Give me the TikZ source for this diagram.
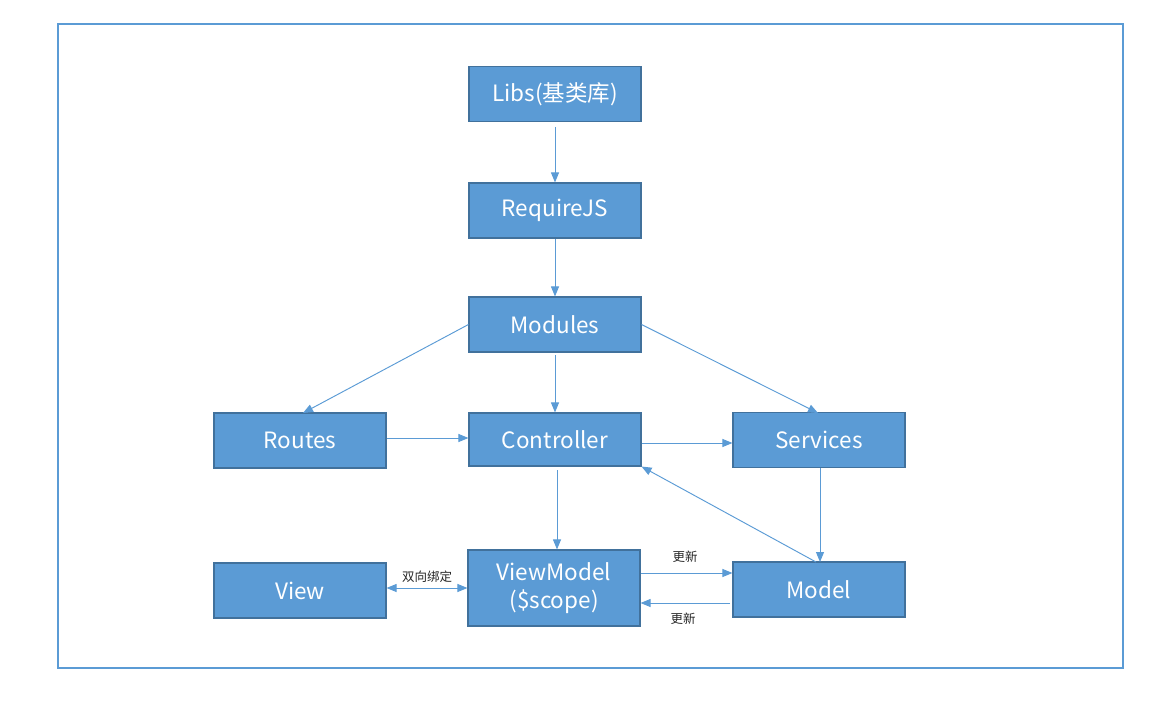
\documentclass[tikz,border=0pt]{standalone}
\usepackage{fontspec}
\setmainfont{Noto Sans CJK SC}
\usetikzlibrary{arrows.meta}
\definecolor{boxfill}{HTML}{5B9BD5}
\definecolor{boxline}{HTML}{41719C}
\definecolor{arr}{HTML}{5B9BD5}
\tikzset{
  blk/.style={draw=boxline, fill=boxfill, line width=1.1pt, inner sep=0pt, minimum width=172pt, minimum height=55pt, text=white, font=\fontsize{22.5}{28}\selectfont, align=center},
  conn/.style={draw=arr, line width=0.95pt, -{Triangle[length=10pt,width=8pt]}},
  biconn/.style={draw=arr, line width=0.95pt, {Triangle[length=10pt,width=8pt]}-{Triangle[length=10pt,width=8pt]}},
  lbl/.style={font=\fontsize{12.5}{14}\selectfont, text=black!85, inner sep=1pt}
}
\begin{document}
\begin{tikzpicture}[x=1pt,y=-1pt]
\useasboundingbox (0,0) rectangle (1175,703);
\draw[draw=arr, line width=1.1pt] (58,24) rectangle (1123,668);
\node[blk] (libs) at (555,94) {Libs(基类库)};
\node[blk] (req) at (555,210.5) {RequireJS};
\node[blk] (mod) at (555,324.5) {Modules};
\node[blk] (routes) at (300,440.5) {Routes};
\node[blk, minimum height=53pt] (ctrl) at (555,439.5) {Controller};
\node[blk] (serv) at (819,440) {Services};
\node[blk] (view) at (300,590.5) {View};
\node[blk, minimum height=76pt] (vm) at (554,588) {ViewModel\\(\$scope)};
\node[blk] (model) at (819,589.5) {Model};
\coordinate (a1) at (555,127);
\draw[conn] (a1) -- (req.north);
\draw[conn] (req.south) -- (mod.north);
\coordinate (a2) at (555,355);
\draw[conn] (a2) -- (ctrl.north);
\coordinate (rt) at (303,413);
\draw[conn] (mod.west) -- (rt);
\coordinate (st) at (818,413);
\draw[conn] (mod.east) -- (st);
\draw[conn] (routes.east |- 0,438) coordinate (r1) -- (ctrl.west |- r1);
\draw[conn] (ctrl.east |- 0,443) coordinate (c1) -- (serv.west |- c1);
\coordinate (s1) at (820,468);
\coordinate (m1) at (820,562);
\draw[conn] (s1) -- (m1);
\coordinate (m2) at (816,562);
\draw[conn] (m2) -- (ctrl.south east);
\coordinate (c2) at (557,470);
\draw[conn] (c2) -- (vm.north -| c2);
\draw[conn] (vm.east |- 0,573) coordinate (v1) -- (model.west |- v1);
\coordinate (m3) at (730,603);
\draw[conn] (m3) -- (vm.east |- m3);
\draw[biconn] (view.east |- 0,588) coordinate (w1) -- (vm.west |- w1);
\node[lbl] (l1) at (427,577) {双向绑定};
\node[lbl] (l2) at (685,557) {更新};
\node[lbl] (l3) at (683,619) {更新};
\end{tikzpicture}
\end{document}
